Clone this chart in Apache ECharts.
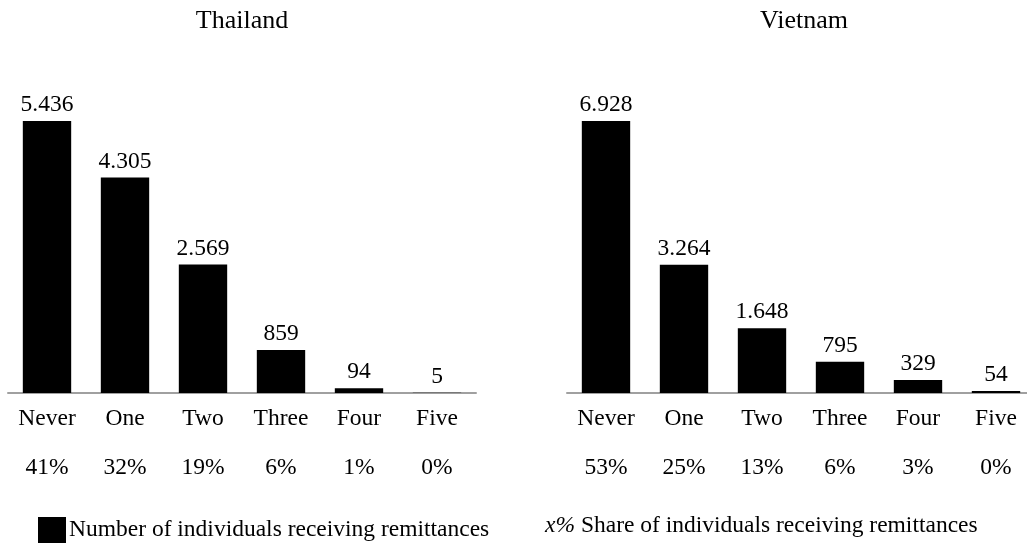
<!DOCTYPE html>
<html>
<head>
<meta charset="utf-8">
<script src="https://cdn.jsdelivr.net/npm/echarts@6/dist/echarts.min.js"></script>
<style>html,body{margin:0;padding:0;background:#fff;}#c{width:1027px;height:549px;}</style>
</head>
<body>
<div id="c"></div>
<script>
const categories = ['Never', 'One', 'Two', 'Three', 'Four', 'Five'];
const thailandValues = [5436, 4305, 2569, 859, 94, 5];
const vietnamValues = [6928, 3264, 1648, 795, 329, 54];
const thailandShares = ['41%', '32%', '19%', '6%', '1%', '0%'];
const vietnamShares = ['53%', '25%', '13%', '6%', '3%', '0%'];
const panelTitles = ['Thailand', 'Vietnam'];
const legendNumber = 'Number of individuals receiving remittances';
const legendShare = 'Share of individuals receiving remittances';

const FONT = '"Liberation Serif", "Times New Roman", serif';
const FS = 23.5;

function fmtNum(v) {
  if (v >= 1000) {
    const s = String(v);
    return s.slice(0, s.length - 3) + '.' + s.slice(s.length - 3);
  }
  return String(v);
}

function xAxisFor(gridIndex, shares) {
  return {
    type: 'category', gridIndex: gridIndex, data: categories,
    axisLine: { show: true, lineStyle: { color: '#a0a0a0', width: 2 } },
    axisTick: { show: false },
    axisLabel: {
      margin: 1,
      interval: 0,
      formatter: function (v, i) { return '{a|' + v + '}\n{b|' + shares[i] + '}'; },
      rich: {
        a: { fontFamily: FONT, fontSize: FS, color: '#000', lineHeight: 49 },
        b: { fontFamily: FONT, fontSize: FS, color: '#000', lineHeight: 49 }
      }
    }
  };
}

function barSeries(idx, data) {
  return {
    type: 'bar', name: legendNumber, xAxisIndex: idx, yAxisIndex: idx,
    data: data, barWidth: '62%',
    itemStyle: { color: '#000' },
    label: {
      show: true, position: 'top', distance: 4,
      fontFamily: FONT, fontSize: FS, color: '#000',
      formatter: function (p) { return fmtNum(p.value); }
    }
  };
}

const chart = echarts.init(document.getElementById('c'));
chart.setOption({
  animation: false,
  backgroundColor: '#fff',
  grid: [
    { left: 8, top: 121, width: 468, height: 272, outerBoundsMode: 'none', containLabel: false },
    { left: 567, top: 121, width: 468, height: 272, outerBoundsMode: 'none', containLabel: false }
  ],
  xAxis: [xAxisFor(0, thailandShares), xAxisFor(1, vietnamShares)],
  yAxis: [
    { type: 'value', gridIndex: 0, min: 0, max: 'dataMax', show: false, splitLine: { show: false } },
    { type: 'value', gridIndex: 1, min: 0, max: 'dataMax', show: false, splitLine: { show: false } }
  ],
  legend: {
    left: 33, top: 512, itemWidth: 28, itemHeight: 26, itemGap: 4,
    icon: 'rect',
    data: [legendNumber],
    textStyle: { fontFamily: FONT, fontSize: FS, color: '#000', padding: [0, 0, 18, -2] }
  },
  graphic: [
    { type: 'text', x: 242, y: 21,
      style: { text: panelTitles[0], font: '26px ' + FONT, fill: '#000', align: 'center', verticalAlign: 'middle' } },
    { type: 'text', x: 804, y: 21,
      style: { text: panelTitles[1], font: '26px ' + FONT, fill: '#000', align: 'center', verticalAlign: 'middle' } },
    { type: 'text', x: 545, y: 526,
      style: {
        text: '{i|x%} ' + legendShare,
        rich: { i: { fontFamily: FONT, fontSize: FS, fontStyle: 'italic', fill: '#000' } },
        font: FS + 'px ' + FONT, fill: '#000', verticalAlign: 'middle'
      } }
  ],
  series: [barSeries(0, thailandValues), barSeries(1, vietnamValues)]
});
</script>
</body>
</html>
